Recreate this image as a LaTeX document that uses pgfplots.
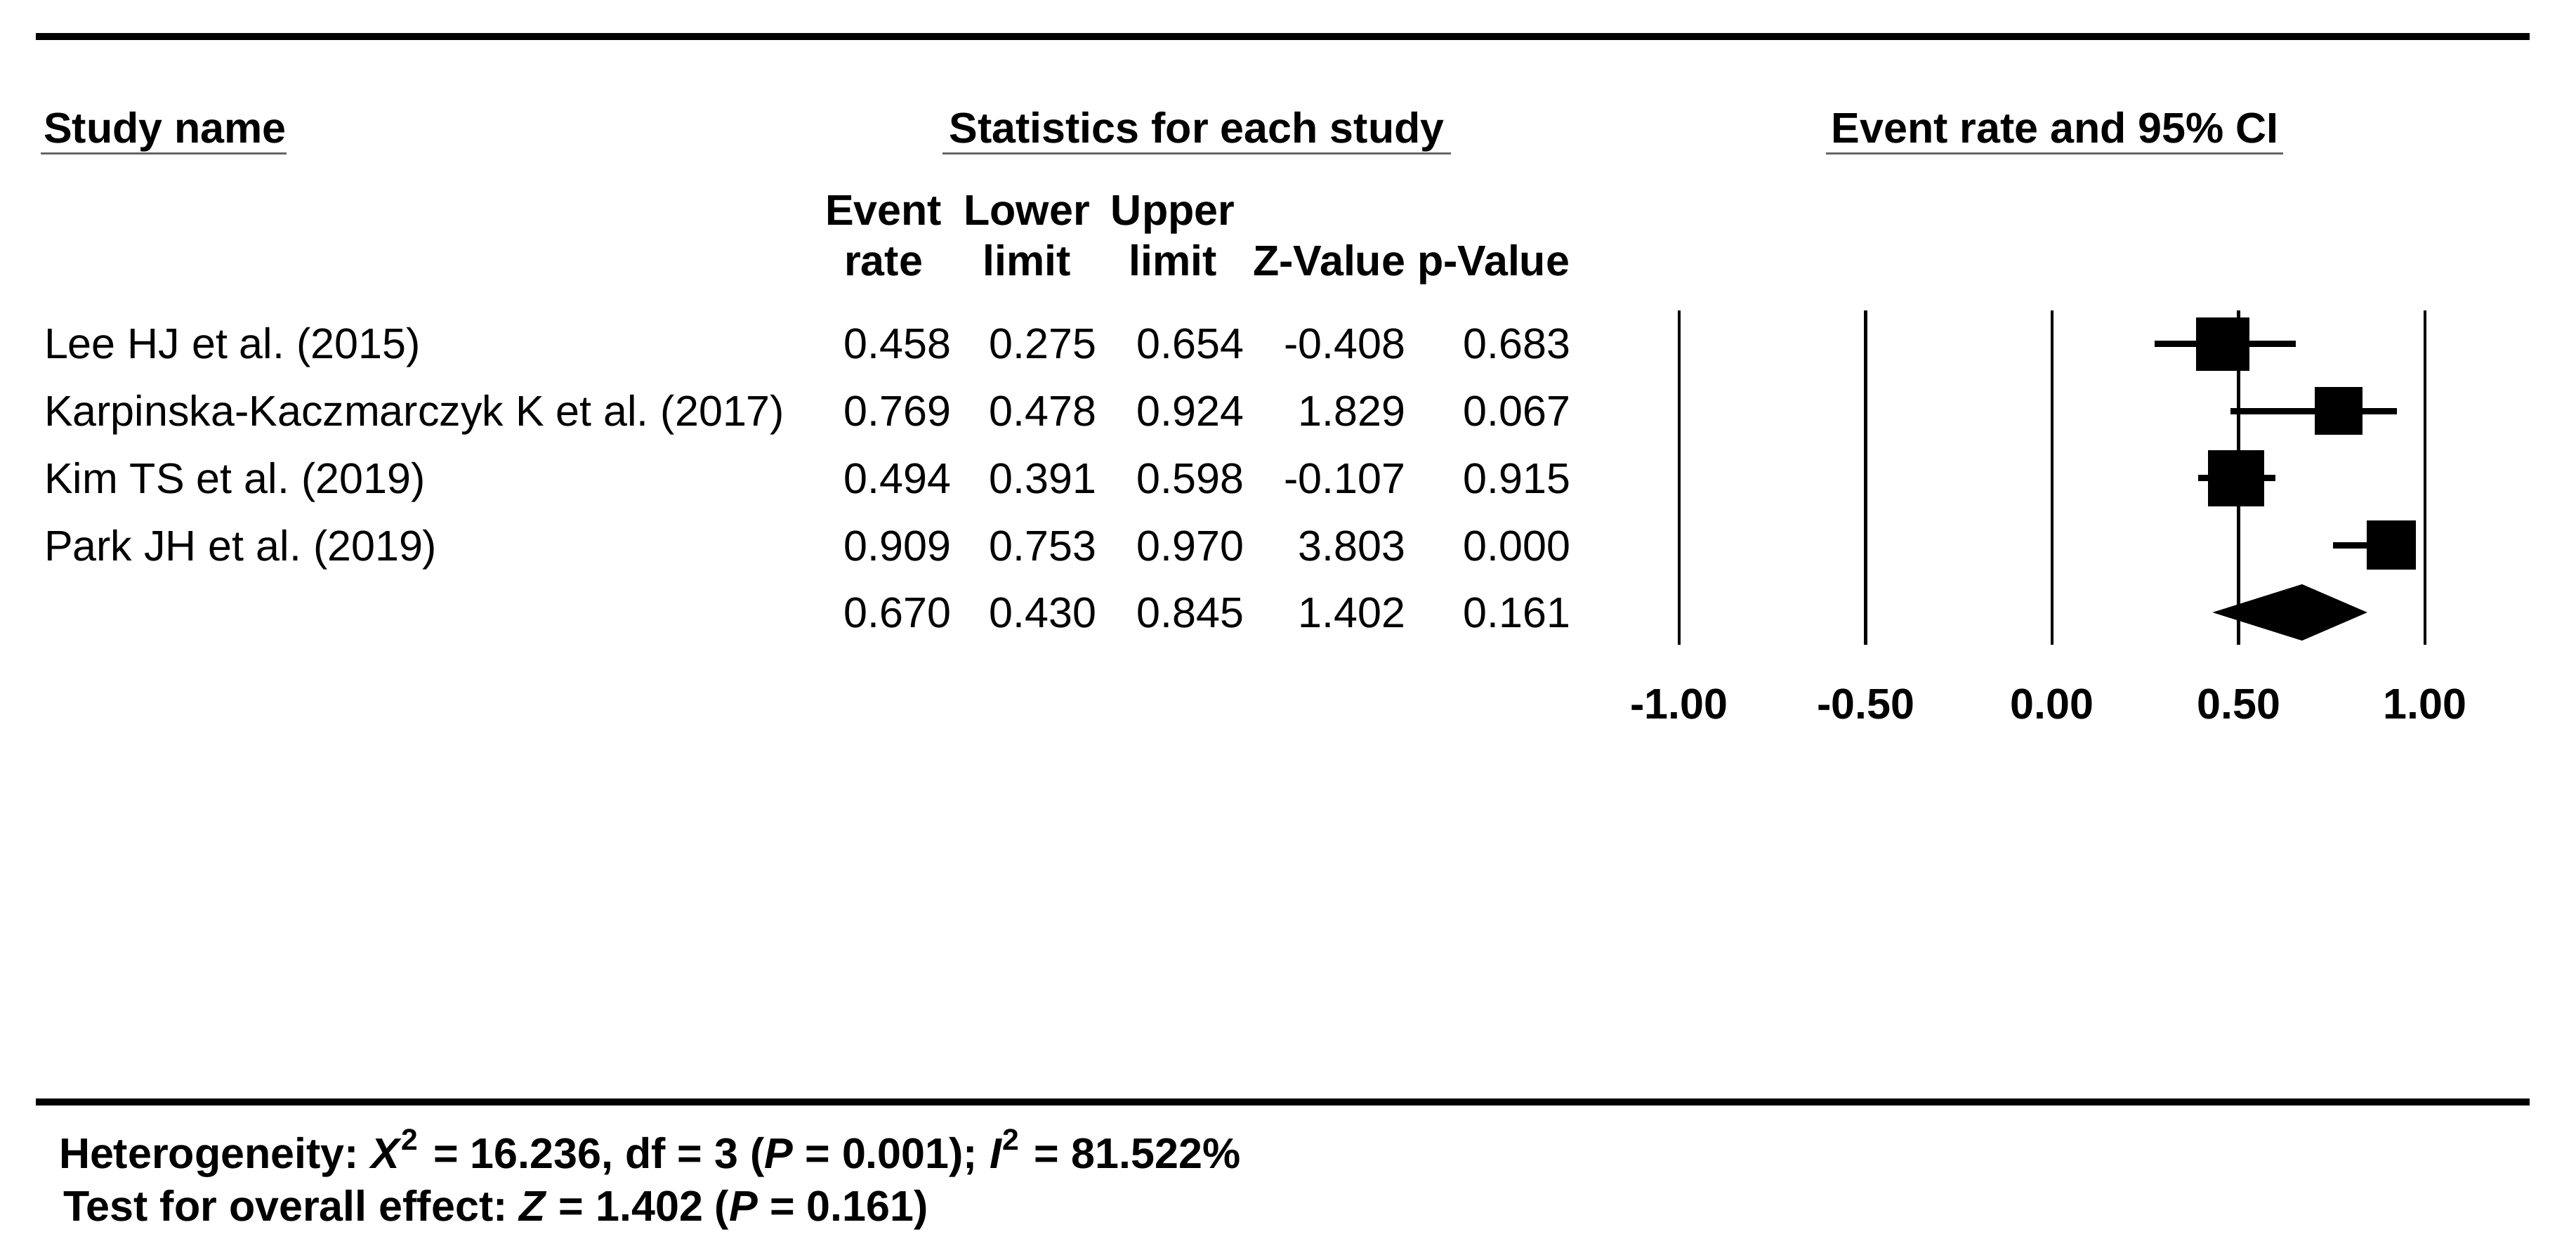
\documentclass[border=0pt]{standalone}
\usepackage{fontspec}
\setmainfont{Liberation Sans}
\usepackage{pgfplots}
\usepackage{pgfplotstable}
\pgfplotsset{compat=1.18}

% row est lo hi msize(pt, half side of square)
\pgfplotstableread{
row est   lo    hi    msize
1   0.458 0.275 0.654 3.6
2   0.769 0.478 0.924 3.2
3   0.494 0.391 0.598 3.8
4   0.909 0.753 0.970 3.3
}\studies

\begin{document}
\frenchspacing
\begin{tikzpicture}
\useasboundingbox (0,0) rectangle (366.8pt,178.4pt);
\fontsize{6.1}{7}\selectfont

\begin{axis}[
at={(0,0)}, anchor=south west,
scale only axis,
width=366.8pt, height=178.4pt,
hide axis, clip=false,
xmin=-5.5028, xmax=1.4049,
ymin=-4.131, ymax=14.550,
y dir=reverse,
]
% vertical reference lines
\foreach \v in {-1,-0.5,0,0.5,1}{
  \edef\temp{\noexpand\draw[line width=0.45pt] (axis cs:\v,0.497) -- (axis cs:\v,5.482);}
  \temp
}
% confidence intervals
\addplot[only marks, mark=none, black,
  error bars/.cd, x dir=both, x explicit,
  error bar style={line width=0.9pt, black}, error mark=none]
  table[x=est, y=row,
    x error plus expr=\thisrow{hi}-\thisrow{est},
    x error minus expr=\thisrow{est}-\thisrow{lo}] {\studies};
% study squares
\addplot[only marks, mark=square*, scatter,
  scatter/use mapped color={draw=none, fill=black},
  visualization depends on={\thisrow{msize} \as \msize},
  scatter/@pre marker code/.append style={/tikz/mark size=\msize pt}]
  table[x=est, y=row] {\studies};
% summary diamond
\addplot[fill=black, draw=none] coordinates {
  (0.430,5) (0.670,4.58) (0.845,5) (0.670,5.42) (0.430,5)};
% tick labels
\foreach \v/\l in {-1/-1.00,-0.5/-0.50,0/0.00,0.5/0.50,1/1.00}{
  \edef\temp{\noexpand\node[anchor=base, inner sep=0pt, font=\noexpand\bfseries] at (axis cs:\v,6.592) {\l};}
  \temp
}
\end{axis}

\begin{scope}[x=0.1pt, y=-0.1pt, shift={(0pt,178.4pt)}]
% rules
\draw[line width=1pt] (51,52) -- (3602,52);
\draw[line width=1pt] (51,1569) -- (3602,1569);
% group headers
\node[anchor=base west, inner sep=0pt, font=\bfseries] at (60,204) {Study name};
\node[anchor=base, inner sep=0pt, font=\bfseries] at (1704,204) {Statistics for each study};
\node[anchor=base, inner sep=0pt, font=\bfseries] at (2926,204) {Event rate and 95\% CI};
\draw[line width=0.3pt, black!60] (58,219) -- (408,219);
\draw[line width=0.3pt, black!60] (1342,219) -- (2066,219);
\draw[line width=0.3pt, black!60] (2600,219) -- (3251,219);
% column headers
\begin{scope}[every node/.style={inner sep=0pt, font=\bfseries}]
\node[anchor=base] at (1258,321) {Event};
\node[anchor=base] at (1258,393) {rate};
\node[anchor=base] at (1462,321) {Lower};
\node[anchor=base] at (1462,393) {limit};
\node[anchor=base] at (1670,321) {Upper};
\node[anchor=base] at (1670,393) {limit};
\node[anchor=base east] at (2003,393) {Z-Value};
\node[anchor=base east] at (2237,393) {p-Value};
\end{scope}
% study names
\begin{scope}[every node/.style={inner sep=0pt, anchor=base west}]
\node at (61,511) {Lee HJ et al. (2015)};
\node at (61,607) {Karpinska-Kaczmarczyk K et al. (2017)};
\node at (61,703) {Kim TS et al. (2019)};
\node at (61,798) {Park JH et al. (2019)};
\end{scope}
% statistics
\begin{scope}[every node/.style={inner sep=0pt, anchor=base east}]
\foreach \y/\a/\b/\c/\d/\e in {
  511/0.458/0.275/0.654/-0.408/0.683,
  607/0.769/0.478/0.924/1.829/0.067,
  703/0.494/0.391/0.598/-0.107/0.915,
  798/0.909/0.753/0.970/3.803/0.000,
  893/0.670/0.430/0.845/1.402/0.161}{
  \node at (1356,\y) {\a};
  \node at (1563,\y) {\b};
  \node at (1773,\y) {\c};
  \node at (2003,\y) {\d};
  \node at (2238,\y) {\e};
}
\end{scope}
% footer
\node[anchor=base west, inner sep=0pt, font=\bfseries] at (82,1663)
  {Heterogeneity: \textit{X}\textsuperscript{2} = 16.236, df = 3 (\textit{P} = 0.001); \textit{I}\textsuperscript{2} = 81.522\%};
\node[anchor=base west, inner sep=0pt, font=\bfseries] at (88,1738)
  {Test for overall effect: \textit{Z} = 1.402 (\textit{P} = 0.161)};
\end{scope}
\end{tikzpicture}
\end{document}
